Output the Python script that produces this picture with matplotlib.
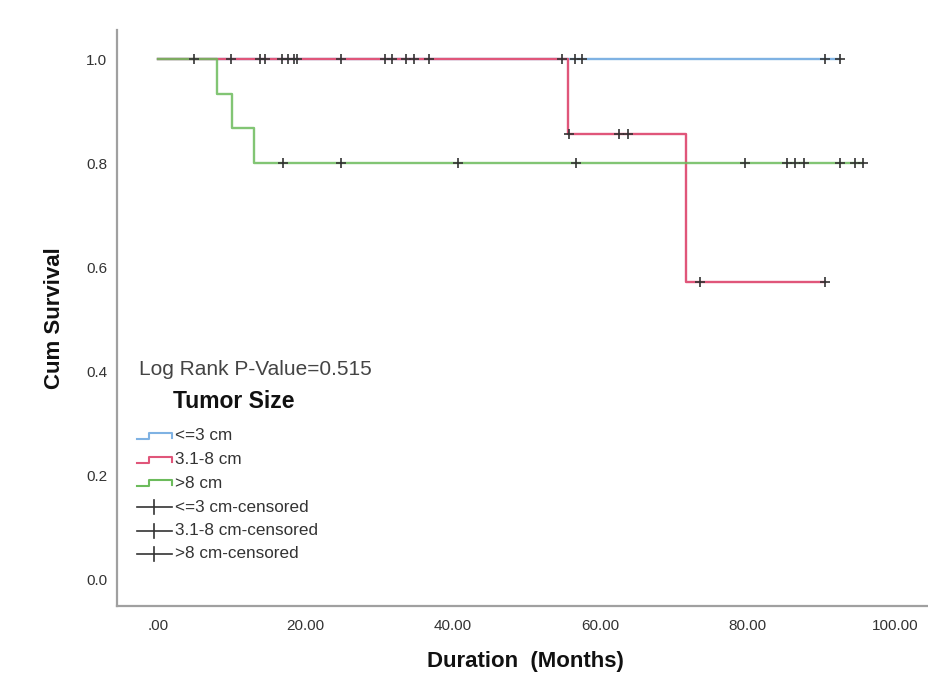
import numpy as np
import matplotlib
matplotlib.use("Agg")
import matplotlib.pyplot as plt
from matplotlib.lines import Line2D

plt.rcParams['font.family'] = ['Liberation Sans', 'DejaVu Sans']

# ---- data ----
groups = ["<=3 cm", "3.1-8 cm", ">8 cm"]
colors = ["#7fb2e3", "#e0567a", "#6cbb5c"]

blue_event_t = [0.0]
blue_surv = [1.0]
blue_cens = [17.7, 18.8, 24.8, 30.8, 34.7, 56.6, 57.5, 90.5, 92.5]

red_event_t = [0.0, 55.6, 71.6]
red_surv = [1.0, 0.857, 0.571]
red_cens = [9.9, 13.8, 14.5, 16.8, 18.4, 31.8, 33.7, 36.8, 54.8,
            55.7, 62.6, 63.7, 73.5, 90.5]

green_event_t = [0.0, 8.0, 10.0, 13.0]
green_surv = [1.0, 0.933, 0.867, 0.80]
green_cens = [4.9, 16.9, 24.8, 40.7, 56.7, 79.6, 85.4, 86.4, 87.6,
              92.5, 94.6, 95.6]

xticks = [0, 20, 40, 60, 80, 100]
xticklabels = [".00", "20.00", "40.00", "60.00", "80.00", "100.00"]
yticks = [0.0, 0.2, 0.4, 0.6, 0.8, 1.0]
yticklabels = ["0.0", "0.2", "0.4", "0.6", "0.8", "1.0"]

W, H = 929, 679
fig = plt.figure(figsize=(W / 100, H / 100), dpi=100)
ax = fig.add_axes([117 / W, 1 - 606 / H, 1 - 117 / W, (606 - 30) / H])


def surv_at(t_ev, s_ev, t):
    idx = np.searchsorted(np.asarray(t_ev), np.asarray(t), side="right") - 1
    return np.asarray(s_ev)[idx]


series = [
    (blue_event_t, blue_surv, blue_cens, colors[0], 1.0),
    (red_event_t, red_surv, red_cens, colors[1], 1.0),
    (green_event_t, green_surv, green_cens, colors[2], 0.85),
]
for t_ev, s_ev, cens, col, a in series:
    tmax = max(max(cens), max(t_ev))
    xs = list(t_ev) + [tmax]
    ys = list(s_ev) + [s_ev[-1]]
    ax.step(xs, ys, where="post", color=col, lw=1.7, alpha=a, zorder=2)

for t_ev, s_ev, cens, col, a in series:
    ax.plot(cens, surv_at(t_ev, s_ev, cens), linestyle="none", marker="+",
            markersize=7, markeredgewidth=1.2, color="#333333", zorder=3)

ax.set_xlim(-5.56, 104.6)
ax.set_ylim(-0.05, 1.0557)
ax.set_xticks(xticks)
ax.set_xticklabels(xticklabels)
ax.set_yticks(yticks)
ax.set_yticklabels(yticklabels)
ax.tick_params(length=0, labelsize=11, colors="#333333")
ax.tick_params(axis="y", pad=7)
ax.tick_params(axis="x", pad=9)
for s in ["top", "right"]:
    ax.spines[s].set_visible(False)
for s in ["left", "bottom"]:
    ax.spines[s].set_color("#a0a0a0")
    ax.spines[s].set_linewidth(1.6)

fig.text(55 / W, 1 - 318 / H, "Cum Survival", rotation=90, fontsize=16,
         fontweight="bold", ha="center", va="center", color="#111111")
fig.text(525 / W, 1 - 662 / H, "Duration  (Months)", fontsize=16,
         fontweight="bold", ha="center", va="center", color="#111111")

# ---- legend (drawn in figure pixel space) ----
def P(x, y):
    return (x / W, 1 - y / H)

fig.text(*P(139, 370), "Log Rank P-Value=0.515", fontsize=15,
         ha="left", va="center", color="#444444")
fig.text(*P(173, 401), "Tumor Size", fontsize=16.5, fontweight="bold",
         ha="left", va="center", color="#111111")

row_y = [436, 459.5, 483, 507, 530.5, 554]
labels = groups + [g + "-censored" for g in groups]
for i, (yy, lab) in enumerate(zip(row_y, labels)):
    if i < 3:
        xs = [137, 149, 149, 172, 172]
        ys = [yy + 3, yy + 3, yy - 3, yy - 3, yy + 2]
        fig.add_artist(Line2D([x / W for x in xs], [1 - y / H for y in ys],
                              color=colors[i], lw=1.5, transform=fig.transFigure))
    else:
        fig.add_artist(Line2D([137 / W, 172 / W], [1 - yy / H] * 2,
                              color="#333333", lw=1.2, transform=fig.transFigure))
        fig.add_artist(Line2D([154 / W, 154 / W], [1 - (yy - 7) / H, 1 - (yy + 7) / H],
                              color="#333333", lw=1.2, transform=fig.transFigure))
    fig.text(*P(175, yy), lab, fontsize=12.3, ha="left", va="center",
             color="#333333")

fig.savefig("out.png", dpi=100)
